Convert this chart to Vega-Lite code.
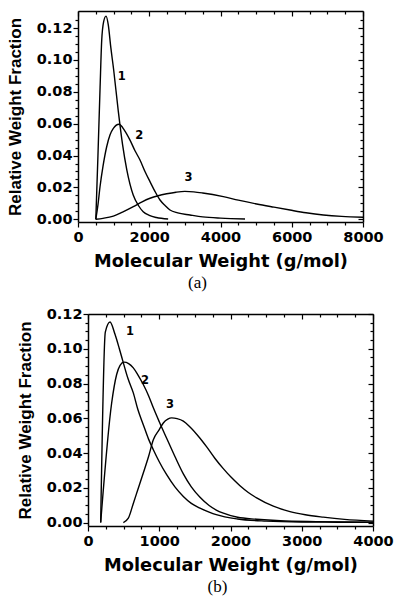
{
  "$schema": "https://vega.github.io/schema/vega-lite/v6.json",
  "padding": {"left": 6, "top": 10, "right": 0, "bottom": 0},
  "spacing": 14,
  "datasets": {
    "topCurves": [
      {"c": 1, "mw": 500, "f": 0}, {"c": 1, "mw": 560, "f": 0.04}, {"c": 1, "mw": 620, "f": 0.083}, {"c": 1, "mw": 665, "f": 0.112}, {"c": 1, "mw": 720, "f": 0.124}, {"c": 1, "mw": 786, "f": 0.1275}, {"c": 1, "mw": 850, "f": 0.122}, {"c": 1, "mw": 920, "f": 0.108}, {"c": 1, "mw": 1000, "f": 0.094}, {"c": 1, "mw": 1130, "f": 0.068}, {"c": 1, "mw": 1250, "f": 0.047}, {"c": 1, "mw": 1370, "f": 0.031}, {"c": 1, "mw": 1550, "f": 0.0152}, {"c": 1, "mw": 1700, "f": 0.0085}, {"c": 1, "mw": 1830, "f": 0.0048}, {"c": 1, "mw": 2000, "f": 0.0025}, {"c": 1, "mw": 2200, "f": 0.0011}, {"c": 1, "mw": 2530, "f": 0.0002},
      {"c": 2, "mw": 500, "f": 0}, {"c": 2, "mw": 560, "f": 0.009}, {"c": 2, "mw": 618, "f": 0.0204}, {"c": 2, "mw": 700, "f": 0.033}, {"c": 2, "mw": 805, "f": 0.0455}, {"c": 2, "mw": 900, "f": 0.053}, {"c": 2, "mw": 992, "f": 0.057}, {"c": 2, "mw": 1151, "f": 0.0596}, {"c": 2, "mw": 1300, "f": 0.056}, {"c": 2, "mw": 1460, "f": 0.0497}, {"c": 2, "mw": 1600, "f": 0.043}, {"c": 2, "mw": 1740, "f": 0.0372}, {"c": 2, "mw": 1880, "f": 0.03}, {"c": 2, "mw": 2021, "f": 0.0236}, {"c": 2, "mw": 2160, "f": 0.0175}, {"c": 2, "mw": 2302, "f": 0.0121}, {"c": 2, "mw": 2450, "f": 0.0085}, {"c": 2, "mw": 2582, "f": 0.0058}, {"c": 2, "mw": 2800, "f": 0.004}, {"c": 2, "mw": 3144, "f": 0.0027}, {"c": 2, "mw": 3500, "f": 0.0015}, {"c": 2, "mw": 4000, "f": 0.0007}, {"c": 2, "mw": 4688, "f": 0.0002},
      {"c": 3, "mw": 500, "f": 0}, {"c": 3, "mw": 700, "f": 0.0006}, {"c": 3, "mw": 992, "f": 0.002}, {"c": 3, "mw": 1250, "f": 0.0045}, {"c": 3, "mw": 1553, "f": 0.0079}, {"c": 3, "mw": 1800, "f": 0.011}, {"c": 3, "mw": 2021, "f": 0.0132}, {"c": 3, "mw": 2250, "f": 0.0148}, {"c": 3, "mw": 2489, "f": 0.016}, {"c": 3, "mw": 2750, "f": 0.017}, {"c": 3, "mw": 3000, "f": 0.0175}, {"c": 3, "mw": 3250, "f": 0.0172}, {"c": 3, "mw": 3500, "f": 0.0165}, {"c": 3, "mw": 4079, "f": 0.0142}, {"c": 3, "mw": 4500, "f": 0.012}, {"c": 3, "mw": 5015, "f": 0.0096}, {"c": 3, "mw": 5500, "f": 0.0076}, {"c": 3, "mw": 5951, "f": 0.0058}, {"c": 3, "mw": 6400, "f": 0.0041}, {"c": 3, "mw": 6886, "f": 0.0027}, {"c": 3, "mw": 7400, "f": 0.0018}, {"c": 3, "mw": 8000, "f": 0.0013}
    ],
    "topLabels": [
      {"label": "1", "mw": 1230, "f": 0.089},
      {"label": "2", "mw": 1720, "f": 0.052},
      {"label": "3", "mw": 3100, "f": 0.0257}
    ],
    "botCurves": [
      {"c": 1, "mw": 178, "f": 0}, {"c": 1, "mw": 243, "f": 0.1096}, {"c": 1, "mw": 309, "f": 0.1154}, {"c": 1, "mw": 379, "f": 0.1083}, {"c": 1, "mw": 440, "f": 0.1}, {"c": 1, "mw": 496, "f": 0.0919}, {"c": 1, "mw": 560, "f": 0.083}, {"c": 1, "mw": 636, "f": 0.0746}, {"c": 1, "mw": 700, "f": 0.065}, {"c": 1, "mw": 776, "f": 0.0563}, {"c": 1, "mw": 850, "f": 0.048}, {"c": 1, "mw": 917, "f": 0.0419}, {"c": 1, "mw": 1000, "f": 0.035}, {"c": 1, "mw": 1104, "f": 0.0275}, {"c": 1, "mw": 1220, "f": 0.0205}, {"c": 1, "mw": 1338, "f": 0.015}, {"c": 1, "mw": 1450, "f": 0.011}, {"c": 1, "mw": 1572, "f": 0.0083}, {"c": 1, "mw": 1700, "f": 0.006}, {"c": 1, "mw": 1800, "f": 0.0045}, {"c": 1, "mw": 2100, "f": 0.002}, {"c": 1, "mw": 2500, "f": 0.0008}, {"c": 1, "mw": 3000, "f": 0.0003}, {"c": 1, "mw": 3500, "f": 0.0002}, {"c": 1, "mw": 4000, "f": 0.0001},
      {"c": 2, "mw": 178, "f": 0}, {"c": 2, "mw": 332, "f": 0.0688}, {"c": 2, "mw": 402, "f": 0.0852}, {"c": 2, "mw": 450, "f": 0.0905}, {"c": 2, "mw": 505, "f": 0.0923}, {"c": 2, "mw": 570, "f": 0.0915}, {"c": 2, "mw": 636, "f": 0.089}, {"c": 2, "mw": 700, "f": 0.085}, {"c": 2, "mw": 776, "f": 0.0794}, {"c": 2, "mw": 850, "f": 0.073}, {"c": 2, "mw": 917, "f": 0.066}, {"c": 2, "mw": 1000, "f": 0.058}, {"c": 2, "mw": 1104, "f": 0.0485}, {"c": 2, "mw": 1220, "f": 0.038}, {"c": 2, "mw": 1338, "f": 0.028}, {"c": 2, "mw": 1450, "f": 0.0205}, {"c": 2, "mw": 1572, "f": 0.0145}, {"c": 2, "mw": 1700, "f": 0.0098}, {"c": 2, "mw": 1800, "f": 0.0072}, {"c": 2, "mw": 1900, "f": 0.0054}, {"c": 2, "mw": 2100, "f": 0.003}, {"c": 2, "mw": 2367, "f": 0.0019}, {"c": 2, "mw": 2700, "f": 0.001}, {"c": 2, "mw": 3200, "f": 0.0005}, {"c": 2, "mw": 4000, "f": 0.0002},
      {"c": 3, "mw": 496, "f": 0}, {"c": 3, "mw": 566, "f": 0.0025}, {"c": 3, "mw": 636, "f": 0.011}, {"c": 3, "mw": 700, "f": 0.019}, {"c": 3, "mw": 776, "f": 0.0285}, {"c": 3, "mw": 850, "f": 0.038}, {"c": 3, "mw": 917, "f": 0.0477}, {"c": 3, "mw": 1000, "f": 0.0535}, {"c": 3, "mw": 1057, "f": 0.0573}, {"c": 3, "mw": 1120, "f": 0.0595}, {"c": 3, "mw": 1174, "f": 0.0602}, {"c": 3, "mw": 1250, "f": 0.0598}, {"c": 3, "mw": 1338, "f": 0.0584}, {"c": 3, "mw": 1432, "f": 0.055}, {"c": 3, "mw": 1572, "f": 0.0485}, {"c": 3, "mw": 1666, "f": 0.0435}, {"c": 3, "mw": 1780, "f": 0.037}, {"c": 3, "mw": 1899, "f": 0.031}, {"c": 3, "mw": 2010, "f": 0.026}, {"c": 3, "mw": 2133, "f": 0.0212}, {"c": 3, "mw": 2250, "f": 0.0173}, {"c": 3, "mw": 2367, "f": 0.0142}, {"c": 3, "mw": 2601, "f": 0.0094}, {"c": 3, "mw": 2835, "f": 0.0063}, {"c": 3, "mw": 3050, "f": 0.0045}, {"c": 3, "mw": 3302, "f": 0.0031}, {"c": 3, "mw": 3600, "f": 0.0018}, {"c": 3, "mw": 4000, "f": 0.0008}
    ],
    "botLabels": [
      {"label": "1", "mw": 589, "f": 0.1096},
      {"label": "2", "mw": 800, "f": 0.0813},
      {"label": "3", "mw": 1151, "f": 0.0679}
    ]
  },
  "vconcat": [
    {
      "width": 285,
      "height": 211,
      "title": {"text": "(a)", "orient": "bottom", "font": "Liberation Serif", "fontSize": 17, "fontWeight": "normal", "color": "black", "anchor": "middle", "frame": "group", "dx": -23, "offset": 5},
      "layer": [
        {
          "data": {"name": "topCurves"},
          "mark": {"type": "line", "color": "black", "strokeWidth": 1.4, "interpolate": "monotone"},
          "encoding": {
            "x": {"field": "mw", "type": "quantitative", "scale": {"domain": [0, 8000], "nice": false, "zero": false},
              "axis": {"orient": "bottom", "title": "Molecular Weight (g/mol)",
                "values": [0, 500, 1000, 1500, 2000, 2500, 3000, 3500, 4000, 4500, 5000, 5500, 6000, 6500, 7000, 7500, 8000],
                "labelExpr": "datum.value % 2000 === 0 ? format(datum.value, 'd') : ''",
                "tickSize": {"condition": {"test": "datum.value % 2000 === 0", "value": 5}, "value": 3}}},
            "y": {"field": "f", "type": "quantitative", "scale": {"domain": [-0.0017, 0.1307], "nice": false, "zero": false},
              "axis": {"orient": "left", "title": "Relative Weight Fraction",
                "values": [0, 0.005, 0.01, 0.015, 0.02, 0.025, 0.03, 0.035, 0.04, 0.045, 0.05, 0.055, 0.06, 0.065, 0.07, 0.075, 0.08, 0.085, 0.09, 0.095, 0.1, 0.105, 0.11, 0.115, 0.12, 0.125],
                "labelExpr": "round(datum.value*1000) % 20 === 0 ? format(datum.value, '.2f') : ''",
                "tickSize": {"condition": {"test": "round(datum.value*1000) % 20 === 0", "value": 5}, "value": 3}}},
            "detail": {"field": "c", "type": "nominal"}
          }
        },
        {
          "data": {"name": "topCurves"},
          "mark": {"type": "line", "strokeOpacity": 0},
          "encoding": {
            "x": {"field": "mw", "type": "quantitative", "scale": {"domain": [0, 8000], "nice": false, "zero": false},
              "axis": {"orient": "top", "title": null, "labels": false,
                "values": [0, 500, 1000, 1500, 2000, 2500, 3000, 3500, 4000, 4500, 5000, 5500, 6000, 6500, 7000, 7500, 8000],
                "tickSize": {"condition": {"test": "datum.value % 2000 === 0", "value": -5}, "value": -3}}},
            "y": {"field": "f", "type": "quantitative", "scale": {"domain": [-0.0017, 0.1307], "nice": false, "zero": false},
              "axis": {"orient": "right", "title": null, "labels": false,
                "values": [0, 0.005, 0.01, 0.015, 0.02, 0.025, 0.03, 0.035, 0.04, 0.045, 0.05, 0.055, 0.06, 0.065, 0.07, 0.075, 0.08, 0.085, 0.09, 0.095, 0.1, 0.105, 0.11, 0.115, 0.12, 0.125],
                "tickSize": {"condition": {"test": "round(datum.value*1000) % 20 === 0", "value": -5}, "value": -3}}},
            "detail": {"field": "c", "type": "nominal"}
          }
        },
        {
          "data": {"name": "topLabels"},
          "mark": {"type": "text", "font": "DejaVu Sans", "fontWeight": "bold", "fontSize": 11.5, "color": "black"},
          "encoding": {
            "x": {"field": "mw", "type": "quantitative", "scale": {"domain": [0, 8000], "nice": false, "zero": false}, "axis": null},
            "y": {"field": "f", "type": "quantitative", "scale": {"domain": [-0.0017, 0.1307], "nice": false, "zero": false}, "axis": null},
            "text": {"field": "label"}
          }
        }
      ],
      "resolve": {"scale": {"x": "independent", "y": "independent"}}
    },
    {
      "width": 295,
      "height": 212,
      "title": {"text": "(b)", "orient": "bottom", "font": "Liberation Serif", "fontSize": 17, "fontWeight": "normal", "color": "black", "anchor": "middle", "frame": "group", "dx": -8, "offset": 5},
      "layer": [
        {
          "data": {"name": "botCurves"},
          "mark": {"type": "line", "color": "black", "strokeWidth": 1.4, "interpolate": "monotone"},
          "encoding": {
            "x": {"field": "mw", "type": "quantitative", "scale": {"domain": [0, 4000], "range": [10, 295], "nice": false, "zero": false},
              "axis": {"orient": "bottom", "title": "Molecular Weight (g/mol)", "titleX": 152.5,
                "values": [0, 250, 500, 750, 1000, 1250, 1500, 1750, 2000, 2250, 2500, 2750, 3000, 3250, 3500, 3750, 4000],
                "labelExpr": "datum.value % 1000 === 0 ? format(datum.value, 'd') : ''",
                "tickSize": {"condition": {"test": "datum.value % 1000 === 0", "value": 5}, "value": 3}}},
            "y": {"field": "f", "type": "quantitative", "scale": {"domain": [-0.002, 0.12], "nice": false, "zero": false},
              "axis": {"orient": "left", "title": "Relative Weight Fraction", "offset": -10,
                "values": [0, 0.005, 0.01, 0.015, 0.02, 0.025, 0.03, 0.035, 0.04, 0.045, 0.05, 0.055, 0.06, 0.065, 0.07, 0.075, 0.08, 0.085, 0.09, 0.095, 0.1, 0.105, 0.11, 0.115, 0.12],
                "labelExpr": "round(datum.value*1000) % 20 === 0 ? format(datum.value, '.2f') : ''",
                "tickSize": {"condition": {"test": "round(datum.value*1000) % 20 === 0", "value": 5}, "value": 3}}},
            "detail": {"field": "c", "type": "nominal"}
          }
        },
        {
          "data": {"name": "botCurves"},
          "mark": {"type": "line", "strokeOpacity": 0},
          "encoding": {
            "x": {"field": "mw", "type": "quantitative", "scale": {"domain": [0, 4000], "range": [10, 295], "nice": false, "zero": false},
              "axis": {"orient": "top", "title": null, "labels": false,
                "values": [0, 250, 500, 750, 1000, 1250, 1500, 1750, 2000, 2250, 2500, 2750, 3000, 3250, 3500, 3750, 4000],
                "tickSize": {"condition": {"test": "datum.value % 1000 === 0", "value": -5}, "value": -3}}},
            "y": {"field": "f", "type": "quantitative", "scale": {"domain": [-0.002, 0.12], "nice": false, "zero": false},
              "axis": {"orient": "right", "title": null, "labels": false,
                "values": [0, 0.005, 0.01, 0.015, 0.02, 0.025, 0.03, 0.035, 0.04, 0.045, 0.05, 0.055, 0.06, 0.065, 0.07, 0.075, 0.08, 0.085, 0.09, 0.095, 0.1, 0.105, 0.11, 0.115, 0.12],
                "tickSize": {"condition": {"test": "round(datum.value*1000) % 20 === 0", "value": -5}, "value": -3}}},
            "detail": {"field": "c", "type": "nominal"}
          }
        },
        {
          "data": {"name": "botLabels"},
          "mark": {"type": "text", "font": "DejaVu Sans", "fontWeight": "bold", "fontSize": 11.5, "color": "black"},
          "encoding": {
            "x": {"field": "mw", "type": "quantitative", "scale": {"domain": [0, 4000], "range": [10, 295], "nice": false, "zero": false}, "axis": null},
            "y": {"field": "f", "type": "quantitative", "scale": {"domain": [-0.002, 0.12], "nice": false, "zero": false}, "axis": null},
            "text": {"field": "label"}
          }
        }
      ],
      "resolve": {"scale": {"x": "independent", "y": "independent"}}
    }
  ],
  "config": {
    "view": {"stroke": null},
    "axis": {
      "domainColor": "black", "domainWidth": 1.5, "tickColor": "black", "tickWidth": 1.2,
      "labelColor": "black", "labelFont": "DejaVu Sans", "labelFontWeight": "bold", "labelFontSize": 14.5,
      "titleColor": "black", "grid": false, "labelOverlap": false, "labelFlush": false, "labelBound": false
    },
    "axisX": {"titleFont": "DejaVu Sans", "titleFontSize": 17.8, "titleFontWeight": "bold", "labelPadding": 3, "titlePadding": 9},
    "axisY": {"titleFont": "Liberation Sans", "titleFontSize": 17, "titleFontWeight": "bold", "labelPadding": 1, "titlePadding": 12}
  }
}
